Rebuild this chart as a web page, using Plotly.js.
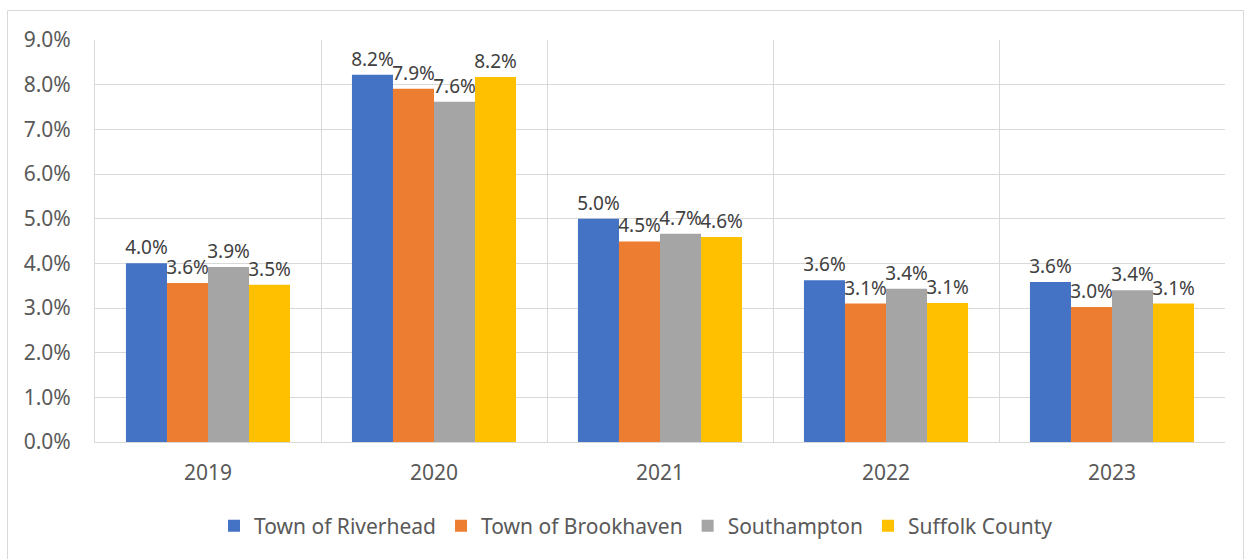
<!DOCTYPE html>
<html>
<head>
<meta charset="utf-8">
<script src="https://cdn.plot.ly/plotly-3.0.1.min.js"></script>
<style>
html,body{margin:0;padding:0;background:#fff;}
#chart{width:1244px;height:559px;}
</style>
</head>
<body>
<div id="chart"></div>
<script>
const years = ["2019", "2020", "2021", "2022", "2023"];
const seriesNames = ["Town of Riverhead", "Town of Brookhaven", "Southampton", "Suffolk County"];
const riverhead = [4.0, 8.22, 5.0, 3.62, 3.58];
const brookhaven = [3.56, 7.91, 4.49, 3.10, 3.02];
const southampton = [3.92, 7.62, 4.66, 3.43, 3.40];
const suffolk = [3.52, 8.17, 4.59, 3.11, 3.10];
const colors = ["#4472C4", "#ED7D31", "#A5A5A5", "#FFC000"];
const yTicks = [0,1,2,3,4,5,6,7,8,9];

const FONT = "Noto Sans, Open Sans, sans-serif";
const allSeries = [riverhead, brookhaven, southampton, suffolk];
const traces = allSeries.map((vals, i) => ({
  type: "bar",
  name: seriesNames[i],
  x: years,
  y: vals,
  marker: {color: colors[i]},
  text: vals.map(v => v.toFixed(1) + "%"),
  texttemplate: "%{text}",
  textposition: "outside",
  constraintext: "none",
  cliponaxis: false,
  textfont: {family: FONT, size: 19, color: "#404040"},
  hoverinfo: "none"
}));

// plot area in pixels: l=95, r=1225, t=40, b=442
const L = 95, R = 1225, T = 40, B = 442;
const pw = R - L, ph = B - T;
const px = x => (x - L) / pw;
const py = y => (B - y) / ph;

const layout = {
  width: 1244, height: 559,
  margin: {l: L, r: 1244 - R, t: T, b: 559 - B, pad: 0},
  paper_bgcolor: "#ffffff",
  plot_bgcolor: "#ffffff",
  barmode: "group",
  bargap: 0.274,
  bargroupgap: 0,
  showlegend: true,
  legend: {
    orientation: "h",
    x: px(636), xanchor: "center",
    y: py(526), yanchor: "middle",
    font: {family: FONT, size: 21, color: "#595959"},
    itemwidth: 30,
    tracegroupgap: 0,
    traceorder: "normal"
  },
  xaxis: {
    type: "category",
    tickson: "boundaries",
    showgrid: true,
    gridcolor: "#d9d9d9",
    gridwidth: 1,
    showline: true,
    linecolor: "#d9d9d9",
    linewidth: 1,
    mirror: false,
    ticks: "",
    ticklabelstandoff: 12,
    tickfont: {family: FONT, size: 21, color: "#595959"},
    fixedrange: true
  },
  yaxis: {
    range: [0, 9],
    tickvals: yTicks,
    ticktext: yTicks.map(v => v.toFixed(1) + "%"),
    showgrid: true,
    gridcolor: "#d9d9d9",
    gridwidth: 1,
    zeroline: false,
    showline: true,
    linecolor: "#d9d9d9",
    ticks: "",
    ticklabelstandoff: 19,
    tickfont: {family: FONT, size: 21, color: "#595959"},
    fixedrange: true
  },
  shapes: [
    {type: "rect", xref: "paper", yref: "paper",
     x0: px(7.5), x1: px(1243.5), y0: py(600), y1: py(10.5),
     line: {color: "#d9d9d9", width: 1}, fillcolor: "rgba(0,0,0,0)", layer: "below"}
  ]
};

Plotly.newPlot("chart", traces, layout, {staticPlot: true, displayModeBar: false});
</script>
</body>
</html>
